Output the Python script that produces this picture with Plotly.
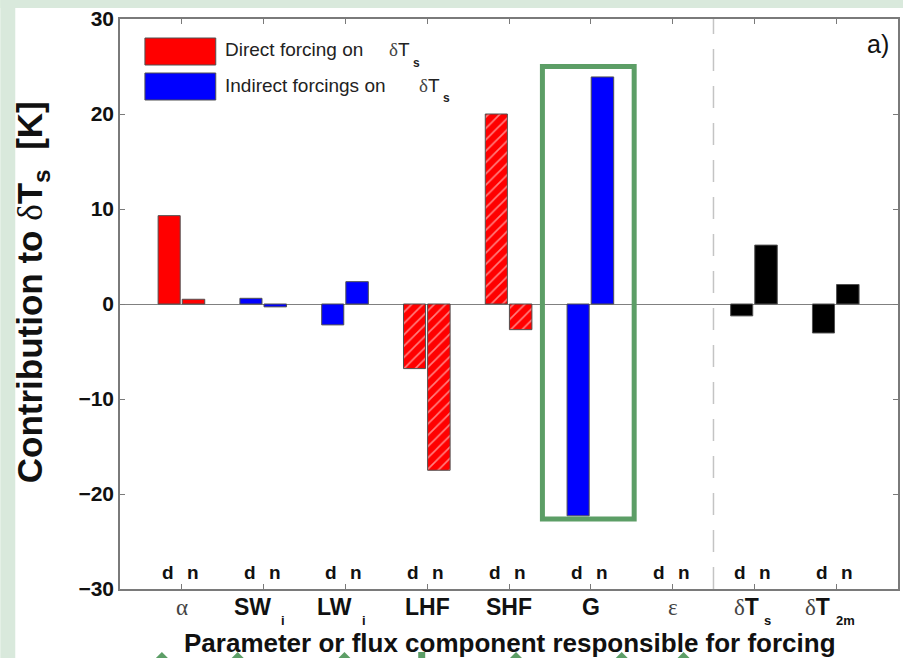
import plotly.graph_objects as go

# ---- data -------------------------------------------------------------
categories = ["α", "SW_i", "LW_i", "LHF", "SHF", "G", "ε", "δT_s", "δT_2m"]
direct_vals = [9.3, 0.6, -2.2, -6.8, 20.0, -22.3, 0.0, -1.25, -3.05]
indirect_vals = [0.5, -0.3, 2.35, -17.5, -2.7, 23.9, 0.0, 6.2, 2.05]
bar_colors = ["#ff0000", "#0000ff", "#0000ff", "#ff0000", "#ff0000",
              "#0000ff", "#ff0000", "#000000", "#000000"]
bar_hatch = ["", "", "", "/", "/", "", "", "", ""]
y_ticks = [-30, -20, -10, 0, 10, 20, 30]

x_pos = list(range(1, len(categories) + 1))

W, H = 905, 658
L, R, T, B = 120, 5, 19, 69
PW, PH = W - L - R, H - T - B

GREEN_BG = "#d9e9dc"
GREEN = "#5c9e66"
SANS = "Liberation Sans, Arial, sans-serif"


def fx(px):
    return (px - L) / PW


def fy(py):
    return (H - B - py) / PH


def outline_widths(vals):
    # zero-height bars get no outline
    return [0 if v == 0 else 1 for v in vals]


fig = go.Figure()

for vals, off, wid, nm in [(direct_vals, -0.29, 0.27, "d"),
                           (indirect_vals, 0.005, 0.275, "n")]:
    fig.add_trace(go.Bar(
        x=x_pos, y=vals, offset=off, width=wid, name=nm,
        marker=dict(color=bar_colors,
                    line=dict(color="#505050", width=outline_widths(vals)),
                    pattern=dict(shape=bar_hatch, fgcolor="#6a2fae",
                                 size=8, solidity=0.2, fillmode="overlay")),
        showlegend=False, hoverinfo="skip"))

shapes = []
# page background strips
shapes.append(dict(type="rect", xref="paper", yref="paper", layer="below",
                   x0=fx(0), x1=fx(15), y0=fy(H), y1=fy(0),
                   fillcolor=GREEN_BG, line=dict(width=0)))
shapes.append(dict(type="rect", xref="paper", yref="paper", layer="below",
                   x0=fx(0), x1=fx(W), y0=fy(8), y1=fy(0),
                   fillcolor=GREEN_BG, line=dict(width=0)))
# separator between parameters and temperatures
shapes.append(dict(type="line", xref="x", yref="paper", x0=7.5, x1=7.5,
                   y0=0, y1=1, line=dict(color="#c4c4c4", width=1.5,
                                         dash="22px,15px")))
# legend swatches
shapes.append(dict(type="rect", xref="paper", yref="paper",
                   x0=fx(145), x1=fx(216), y0=fy(65), y1=fy(38),
                   fillcolor="#ff0000", line=dict(color="#505050", width=1)))
shapes.append(dict(type="rect", xref="paper", yref="paper",
                   x0=fx(145), x1=fx(216), y0=fy(100), y1=fy(73),
                   fillcolor="#0000ff", line=dict(color="#505050", width=1)))
# highlight frame around G
shapes.append(dict(type="rect", xref="paper", yref="paper",
                   x0=fx(543.5), x1=fx(635.5), y0=fy(519), y1=fy(66.5),
                   line=dict(color=GREEN, width=5)))
# arrow tips along the bottom edge
for ax in [162, 238, 345, 517, 623, 685]:
    shapes.append(dict(type="path", xref="paper", yref="paper",
                       path=f"M {fx(ax-6)},{fy(H)} L {fx(ax)},{fy(652)} L {fx(ax+6)},{fy(H)} Z",
                       fillcolor=GREEN, line=dict(width=0)))
shapes.append(dict(type="rect", xref="paper", yref="paper",
                   x0=fx(419), x1=fx(426), y0=fy(H), y1=fy(652),
                   fillcolor=GREEN, line=dict(width=0)))

ann = []
# d / n markers above the bottom axis
for xp in x_pos:
    for txt, sh in [("d", -14), ("n", 11)]:
        ann.append(dict(x=xp, y=-28.3, xref="x", yref="y", text=txt,
                        showarrow=False, xshift=sh,
                        font=dict(family=SANS, size=19, color="#111",
                                  weight="bold")))

# category labels (main text + subscript)
greek = "<span style='font-family:Liberation Serif;font-weight:normal;color:#444'>{}</span>"
label_y = fy(607)
sub_y = fy(620)
label_specs = {
    "α": (greek.format("α"), None, 0, 0),
    "SW_i": ("<b>SW</b>", "i", 9, 16),
    "LW_i": ("<b>LW</b>", "i", 9, 16),
    "LHF": ("<b>LHF</b>", None, 0, 0),
    "SHF": ("<b>SHF</b>", None, 0, 0),
    "G": ("<b>G</b>", None, 0, 0),
    "ε": (greek.format("ε"), None, 0, 0),
    "δT_s": (greek.format("δ") + "<b>T</b>", "s", 7, 9),
    "δT_2m": (greek.format("δ") + "<b>T</b>", "2m", -4, -1),
}
for xp, cat in zip(x_pos, categories):
    main, sub, mshift, sshift = label_specs[cat]
    if sub is None:
        ann.append(dict(x=xp, y=label_y, xref="x", yref="paper", text=main,
                        showarrow=False, xanchor="center", yanchor="middle",
                        font=dict(family=SANS, size=23, color="#111")))
    else:
        ann.append(dict(x=xp, y=label_y, xref="x", yref="paper", text=main,
                        showarrow=False, xanchor="right", yanchor="middle",
                        xshift=mshift, font=dict(family=SANS, size=23, color="#111")))
        ann.append(dict(x=xp, y=sub_y, xref="x", yref="paper", text="<b>" + sub + "</b>",
                        showarrow=False, xanchor="left", yanchor="middle", borderpad=0,
                        xshift=sshift, font=dict(family=SANS, size=13, color="#111")))

# axis titles
ann.append(dict(x=fx(511), y=fy(643), xref="paper", yref="paper",
                text="<b>Parameter or flux component responsible for forcing</b>",
                showarrow=False, xanchor="center", yanchor="middle", borderpad=0,
                font=dict(family=SANS, size=26, color="#111")))
ann.append(dict(x=fx(32), y=fy(292), xref="paper", yref="paper", textangle=-90,
                text="<b>Contribution to </b><span style='font-family:Liberation Serif'>δ</span>"
                     "<b>T</b><sub><b>s</b></sub><b>  [K]</b>",
                showarrow=False, xanchor="center", yanchor="middle",
                font=dict(family=SANS, size=35, color="#111")))

# legend texts
for ty, label, dx in [(50, "Direct forcing on", 388), (85, "Indirect forcings on", 418)]:
    ann.append(dict(x=fx(223), y=fy(ty), xref="paper", yref="paper", text=label,
                    showarrow=False, xanchor="left", yanchor="middle",
                    font=dict(family=SANS, size=19, color="#222")))
    ann.append(dict(x=fx(dx), y=fy(ty), xref="paper", yref="paper",
                    text=greek.format("δ") + "T", showarrow=False,
                    xanchor="left", yanchor="middle",
                    font=dict(family=SANS, size=19, color="#222")))
    ann.append(dict(x=fx(dx + 24), y=fy(ty + 13), xref="paper", yref="paper",
                    text="<b>s</b>", showarrow=False, xanchor="left", yanchor="middle",
                    font=dict(family=SANS, size=12, color="#222")))

# panel tag
ann.append(dict(x=fx(880), y=fy(44), xref="paper", yref="paper", text="a)",
                showarrow=False, xanchor="center", yanchor="middle",
                font=dict(family=SANS, size=25, color="#111")))

axis_line = "#7a7a7a"
fig.update_layout(
    width=W, height=H,
    margin=dict(l=L, r=R, t=T, b=B, pad=0),
    paper_bgcolor="white", plot_bgcolor="white",
    barmode="overlay",
    shapes=shapes, annotations=ann,
    xaxis=dict(range=[0.244, 9.756], tickvals=x_pos, showticklabels=False,
               ticks="inside", ticklen=5, tickcolor=axis_line, tickwidth=1,
               showline=True, linecolor=axis_line, linewidth=1.5, mirror="ticks",
               showgrid=False, zeroline=False, fixedrange=True),
    yaxis=dict(range=[-30, 30], tickvals=y_ticks, ticks="inside", ticklen=5,
               tickcolor=axis_line, tickwidth=1,
               tickfont=dict(family=SANS, size=21, color="#111", weight="bold"),
               showline=True, linecolor=axis_line, linewidth=1.5, mirror="ticks",
               showgrid=False, zeroline=True, zerolinecolor="#808080",
               zerolinewidth=1, fixedrange=True),
)

fig.write_html("out.html")
